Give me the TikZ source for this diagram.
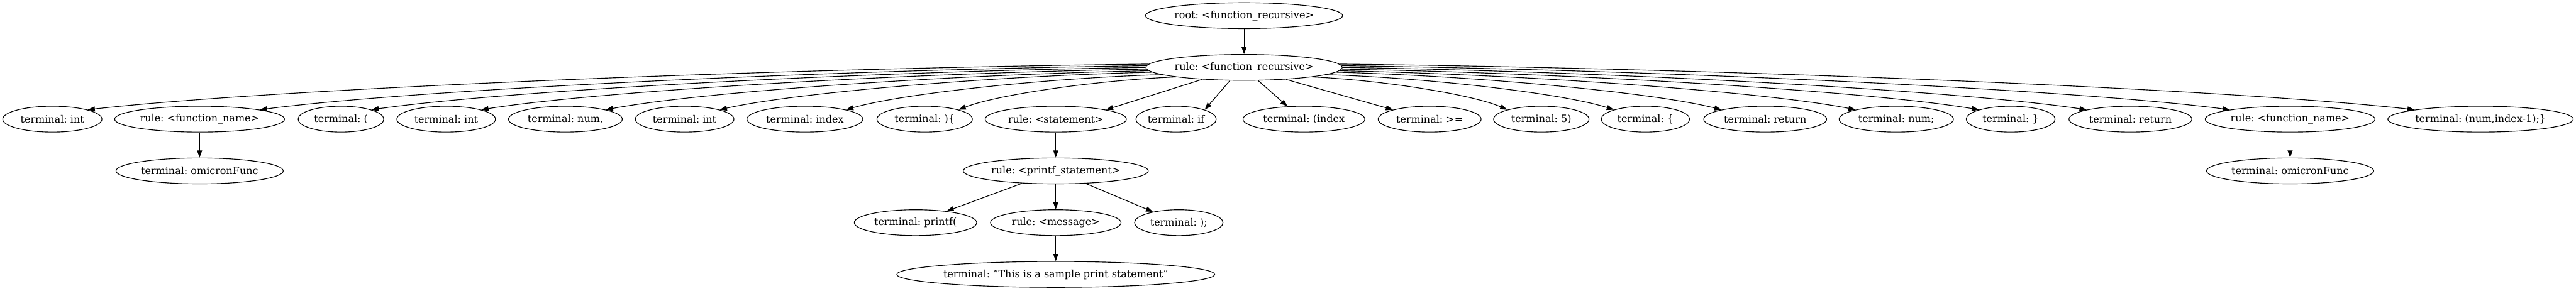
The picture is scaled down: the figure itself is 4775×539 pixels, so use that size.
\documentclass[tikz,border=0pt]{standalone}
\usepackage{fontspec}
\setmainfont{DejaVu Serif}
\usetikzlibrary{arrows.meta,calc,shapes.geometric}
\frenchspacing
\begin{document}
\begin{tikzpicture}[x=0.75pt,y=-0.75pt,
  nd/.style={ellipse,draw,line width=1pt,inner sep=0pt,minimum height=36pt,
    font=\fontsize{14pt}{17pt}\selectfont},
  edge/.style={line width=1pt,-{Triangle[length=10pt,width=7pt]}},
  fan/.style={to path={let \p1=(\tikztostart), \p2=(\tikztotarget) in
    .. controls ($(\p1)+({0.37*(\x2-\x1)},{0.1*(\y2-\y1)})$)
    and ($(\p2)+({-0.17*(\x2-\x1)},{-0.45*(\y2-\y1)})$) .. (\p2)}}]
\useasboundingbox (0,0) rectangle (4775,539);

\node[nd,minimum width=273pt] (root) at (2306,29) {root: <function\_recursive>};
\node[nd,minimum width=273pt] (fr) at (2306,125) {rule: <function\_recursive>};

\node[nd,minimum width=138pt]    (c1)  at (97,221)   {terminal: int};
\node[nd,minimum width=236.25pt] (c2)  at (370,221)  {rule: <function\_name>};
\node[nd,minimum width=119.25pt] (c3)  at (632,221)  {terminal: (};
\node[nd,minimum width=137.25pt] (c4)  at (827,221)  {terminal: int};
\node[nd,minimum width=158.25pt] (c5)  at (1048,221) {terminal: num,};
\node[nd,minimum width=137.25pt] (c6)  at (1269,221) {terminal: int};
\node[nd,minimum width=161.25pt] (c7)  at (1492,221) {terminal: index};
\node[nd,minimum width=132.75pt] (c8)  at (1714,221) {terminal: )\{};
\node[nd,minimum width=196.5pt]  (c9)  at (1957,221) {rule: <statement>};
\node[nd,minimum width=101.25pt] (c10) at (2180,221) {terminal: if};
\node[nd,minimum width=169.5pt]  (c11) at (2417,221) {terminal: (index};
\node[nd,minimum width=143.25pt] (c12) at (2650,221) {terminal: >=};
\node[nd,minimum width=132.75pt] (c13) at (2857,221) {terminal: 5)};
\node[nd,minimum width=123pt]    (c14) at (3050,221) {terminal: \{};
\node[nd,minimum width=171pt]    (c15) at (3272,221) {terminal: return};
\node[nd,minimum width=159pt]    (c16) at (3515,221) {terminal: num;};
\node[nd,minimum width=123.75pt] (c17) at (3727,221) {terminal: \}};
\node[nd,minimum width=171pt]    (c18) at (3949,221) {terminal: return};
\node[nd,minimum width=236.25pt] (c19) at (4245,221) {rule: <function\_name>};
\node[nd,minimum width=258pt]    (c20) at (4598,221) {terminal: (num,index-1);\}};

\node[nd,minimum width=232.5pt]  (g1)  at (370,317)  {terminal: omicronFunc};
\node[nd,minimum width=232.5pt]  (g2)  at (4245,317) {terminal: omicronFunc};
\node[nd,minimum width=257.25pt] (ps)  at (1957,317) {rule: <printf\_statement>};
\node[nd,minimum width=170.25pt] (pf)  at (1697,413) {terminal: printf(};
\node[nd,minimum width=181.5pt]  (msg) at (1957,413) {rule: <message>};
\node[nd,minimum width=123pt]    (sc)  at (2185,413) {terminal: );};
\node[nd,minimum width=432pt]    (str) at (1957,509) {terminal: "This is a sample print statement"};

\draw[edge] (root) -- (fr);
\draw[edge] (fr.178) to[fan] (c1.north east);
\draw[edge] (fr.179) to[fan] (c2.north east);
\draw[edge] (fr.180) to[fan] (c3.north east);
\draw[edge] (fr.181) to[fan] (c4.north east);
\draw[edge] (fr.182) to[fan] (c5.north east);
\draw[edge] (fr.183) to[fan] (c6.north east);
\draw[edge] (fr.185) to[fan] (c7.north east);
\draw[edge] (fr.188) to[fan] (c8.north east);
\draw[edge] (fr.196) -- (c9.north east);
\draw[edge] (fr.223) -- (c10.north east);
\draw[edge] (fr.317) -- (c11.142);
\draw[edge] (fr.344) -- (c12.north west);
\draw[edge] (fr.352) to[fan] (c13.north west);
\draw[edge] (fr.355) to[fan] (c14.north west);
\draw[edge] (fr.357) to[fan] (c15.north west);
\draw[edge] (fr.358) to[fan] (c16.north west);
\draw[edge] (fr.359) to[fan] (c17.north west);
\draw[edge] (fr.0)   to[fan] (c18.north west);
\draw[edge] (fr.1)   to[fan] (c19.north west);
\draw[edge] (fr.2)   to[fan] (c20.north west);

\draw[edge] (c2) -- (g1);
\draw[edge] (c19) -- (g2);
\draw[edge] (c9) -- (ps);
\draw[edge] (ps) -- (pf);
\draw[edge] (ps) -- (msg);
\draw[edge] (ps) -- (sc);
\draw[edge] (msg) -- (str);
\end{tikzpicture}
\end{document}
